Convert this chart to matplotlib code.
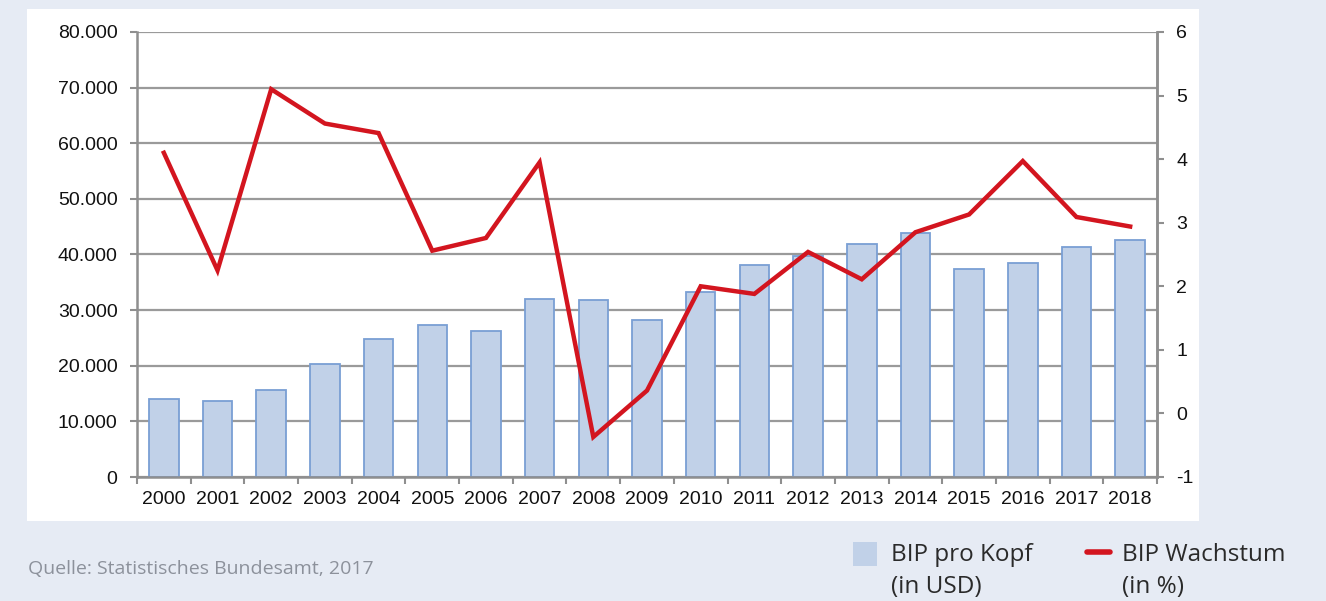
import matplotlib
matplotlib.use("Agg")
import matplotlib.pyplot as plt
from matplotlib.patches import Rectangle
from matplotlib.lines import Line2D
import numpy as np

# ---- data ----
years = ["2000", "2001", "2002", "2003", "2004", "2005", "2006", "2007", "2008", "2009",
         "2010", "2011", "2012", "2013", "2014", "2015", "2016", "2017", "2018"]
bip_pro_kopf = [14050, 13700, 15650, 20400, 24800, 27350, 26200, 31950, 31750, 28250,
                33200, 38100, 39800, 41950, 43800, 37400, 38450, 41300, 42650]
bip_wachstum = [4.1, 2.25, 5.1, 4.56, 4.41, 2.56, 2.76, 3.95, -0.37, 0.36,
                2.0, 1.88, 2.54, 2.11, 2.85, 3.13, 3.97, 3.09, 2.94]
left_ticks = [0, 10000, 20000, 30000, 40000, 50000, 60000, 70000, 80000]
left_tick_labels = ["0", "10.000", "20.000", "30.000", "40.000", "50.000", "60.000", "70.000", "80.000"]
right_ticks = [-1, 0, 1, 2, 3, 4, 5, 6]
right_tick_labels = ["-1", "0", "1", "2", "3", "4", "5", "6"]
legend_bar = "BIP pro Kopf\n(in USD)"
legend_line = "BIP Wachstum\n(in %)"
source = "Quelle: Statistisches Bundesamt, 2017"

# ---- style ----
W, H = 1326, 601
BG = "#e6ebf4"
BAR_FACE = "#c1d1e8"
BAR_EDGE = "#7a9fd4"
RED = "#d3151f"
GRID = "#9a9a9a"
AXIS = "#8f8f8f"
TXT = "#111111"
TICK_FS = 14

fig = plt.figure(figsize=(W / 100, H / 100), dpi=100, facecolor=BG)

# white chart panel
fig.add_artist(Rectangle((27 / W, 1 - 521 / H), (1199 - 27) / W, (521 - 9) / H,
                         transform=fig.transFigure, facecolor="white", edgecolor="none", zorder=0))

l, r, t, b = 137, 1157, 32, 477
ax = fig.add_axes([l / W, 1 - b / H, (r - l) / W, (b - t) / H])
ax.set_facecolor("none")
x = np.arange(len(years))
ax.bar(x, bip_pro_kopf, width=0.55, color=BAR_FACE, edgecolor=BAR_EDGE, linewidth=1.3, zorder=2)
ax.set_xlim(-0.5, len(years) - 0.5)
ax.set_ylim(0, 80000)
ax.set_yticks(left_ticks)
ax.set_yticklabels(left_tick_labels)
ax.yaxis.grid(True, color=GRID, linewidth=1.6, zorder=0)
ax.set_axisbelow(True)
ax.set_xticks(x)
ax.set_xticklabels(years)
ax.set_xticks(np.arange(-0.5, len(years), 1.0), minor=True)
ax.tick_params(axis="x", which="major", length=0, pad=10, labelsize=TICK_FS, labelcolor=TXT)
ax.tick_params(axis="x", which="minor", length=5, width=1.5, color=AXIS, direction="out")
ax.tick_params(axis="y", length=5, width=1.5, color=AXIS, pad=9, labelsize=TICK_FS, labelcolor=TXT)
for s in ["left", "bottom", "right"]:
    ax.spines[s].set_color(AXIS)
    ax.spines[s].set_linewidth(1.8)
ax.spines["top"].set_visible(False)
for lab in ax.get_xticklabels() + ax.get_yticklabels():
    lab.set_family("Liberation Sans")

ax2 = ax.twinx()
ax2.plot(x, bip_wachstum, color=RED, linewidth=3.2, solid_joinstyle="miter", zorder=3)
ax2.set_ylim(-1, 6)
ax2.set_yticks(right_ticks)
ax2.set_yticklabels(right_tick_labels)
ax2.tick_params(axis="y", length=5, width=1.5, color=AXIS, pad=9, labelsize=TICK_FS, labelcolor=TXT)
for s in ["left", "bottom", "top"]:
    ax2.spines[s].set_visible(False)
ax2.spines["right"].set_color(AXIS)
ax2.spines["right"].set_linewidth(1.8)
for lab in ax2.get_yticklabels():
    lab.set_family("Liberation Sans")

# source
fig.text(28 / W, 1 - 569 / H, source, ha="left", va="center", fontsize=14,
         color="#8c919b", family="Open Sans")

# legend (manual, below chart)
fig.add_artist(Rectangle((853 / W, 1 - 566 / H), 24 / W, 24 / H, transform=fig.transFigure,
                         facecolor=BAR_FACE, edgecolor="none"))
fig.text(891 / W, 1 - 543 / H, legend_bar, ha="left", va="top", fontsize=17.5,
         color="#2a2a2a", family="Open Sans", linespacing=1.42)
fig.add_artist(Line2D([1087 / W, 1110 / W], [1 - 552 / H, 1 - 552 / H], transform=fig.transFigure,
                      color=RED, linewidth=4, solid_capstyle="round"))
fig.text(1122 / W, 1 - 543 / H, legend_line, ha="left", va="top", fontsize=17.5,
         color="#2a2a2a", family="Open Sans", linespacing=1.42)

fig.savefig("out.png", dpi=100, facecolor=BG)
